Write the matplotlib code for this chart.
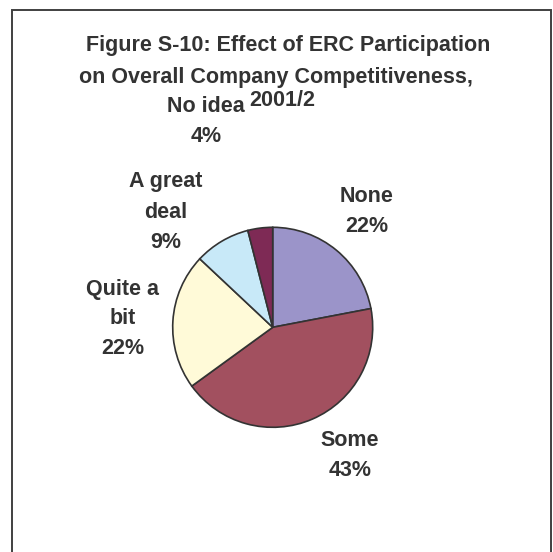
import matplotlib
matplotlib.use("Agg")
import matplotlib.pyplot as plt
from matplotlib.patches import Rectangle

# Survey responses
categories = ["None", "Some", "Quite a\nbit", "A great\ndeal", "No idea"]
shares = [22, 43, 22, 9, 4]
colors = ["#9B94C9", "#A2505F", "#FFFAD8", "#C8E9F8", "#7E2A55"]

title_lines = ["Figure S-10: Effect of ERC Participation",
               "on Overall Company Competitiveness,",
               "2001/2"]

W, H = 553, 552
fig = plt.figure(figsize=(W / 100, H / 100), dpi=100)
ax = fig.add_axes([0, 0, 1, 1])
ax.set_xlim(0, W)
ax.set_ylim(0, H)
ax.set_aspect("equal")
ax.axis("off")

plt.rcParams["font.family"] = ["Liberation Sans", "DejaVu Sans"]
txt = dict(color="#333333", fontweight="bold", fontsize=15.5,
           family=["Liberation Sans", "DejaVu Sans"])

# outer frame
ax.add_patch(Rectangle((12, -10), 539, H - 10 + 10, fill=False,
                       edgecolor="#404040", linewidth=1.4))

# pie
cx, cy, r = 272.7, H - 327.3, 100
ax.pie(shares, colors=colors, startangle=90, counterclock=False,
       center=(cx, cy), radius=r,
       wedgeprops=dict(edgecolor="#333333", linewidth=1.2))
ax.set_xlim(0, W)
ax.set_ylim(0, H)

# title
title_pos = [(288, 46), (276, 77), (282, 101)]
for (x, y), line in zip(title_pos, title_lines):
    ax.text(x, H - y, line, ha="center", va="center", **txt)

# slice labels
label_pos = [(367, 196), (350, 440), (123, 289), (166, 182), (206, 106)]
for (x, y), cat, v in zip(label_pos, categories, shares):
    lines = cat.split("\n") + [f"{v}%"]
    for i, line in enumerate(lines):
        ax.text(x, H - (y + i * 30), line, ha="center", va="center", **txt)

fig.savefig("out.png", dpi=100)
